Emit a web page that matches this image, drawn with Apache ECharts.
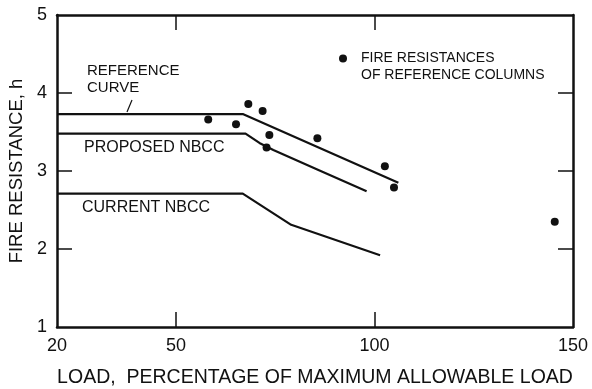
<!DOCTYPE html>
<html lang="en">
<head>
    <meta charset="UTF-8">
    <title>Fire resistance vs load</title>
    <script src="https://cdn.jsdelivr.net/npm/echarts@6/dist/echarts.min.js"></script>
    <style>
        body { margin: 0; background: #fff; }
    </style>
</head>
<body>
<div id="main" style="width: 592px;height:389px;"></div>

<script>
    // curves: [load %, fire resistance h]
    var referenceCurve = [[20, 3.73], [66.8, 3.73], [106, 2.85]];
    var proposedNbcc = [[20, 3.48], [67.5, 3.48], [71, 3.36], [74.5, 3.27], [86, 3.01], [98, 2.74]];
    var currentNbcc = [[20, 2.71], [66.8, 2.71], [79, 2.31], [101.4, 1.92]];
    // fire resistances of reference columns
    var columnPoints = [
        [58.1, 3.66], [65.1, 3.60], [68.2, 3.86], [71.8, 3.77], [73.5, 3.46],
        [72.8, 3.30], [85.6, 3.42], [102.6, 3.06], [104.9, 2.79], [145.4, 2.35]
    ];
    var xLabels = [20, 50, 100, 150];
    var xTicks = [50, 100];
    var yTicks = [2, 3, 4];

    var font = 'Liberation Sans';
    var black = '#111';

    var chart = echarts.init(document.getElementById('main'));

    function lineSeries(name, data) {
        return {
            name: name,
            type: 'line',
            data: data,
            showSymbol: false,
            symbol: 'none',
            silent: true,
            lineStyle: {color: black, width: 2.2}
        };
    }

    var option = {
        animation: false,
        backgroundColor: '#fff',
        textStyle: {fontFamily: font, color: black},
        grid: {left: 57, right: 19, top: 15, bottom: 62, outerBoundsMode: 'none'},
        legend: {
            data: ['points'],
            left: 339,
            top: 33,
            padding: 0,
            itemWidth: 8,
            itemHeight: 8,
            selectedMode: false,
            // blank first line keeps the dot level with the first text line
            formatter: function () {
                return '\n{t|FIRE RESISTANCES}\n{t|OF REFERENCE COLUMNS}';
            },
            textStyle: {
                fontFamily: font,
                fontSize: 14,
                lineHeight: 17,
                color: black,
                rich: {
                    t: {fontFamily: font, fontSize: 14, lineHeight: 17, color: black, padding: [0, 0, 0, 9]}
                }
            }
        },
        xAxis: [{
            type: 'value',
            min: 20,
            max: 150,
            name: 'LOAD,  PERCENTAGE OF MAXIMUM ALLOWABLE LOAD',
            nameLocation: 'middle',
            nameGap: 41,
            nameTextStyle: {fontSize: 19.5, color: black},
            axisLine: {lineStyle: {color: black, width: 2.5}},
            axisTick: {show: true, inside: true, length: 15, customValues: xTicks, lineStyle: {color: black, width: 1.5}},
            axisLabel: {customValues: xLabels, fontSize: 18, color: black, margin: 10},
            splitLine: {show: false}
        }, {
            type: 'value',
            position: 'top',
            min: 20,
            max: 150,
            axisLine: {lineStyle: {color: black, width: 2.5}},
            axisTick: {show: true, inside: true, length: 15, customValues: xTicks, lineStyle: {color: black, width: 1.5}},
            axisLabel: {show: false},
            splitLine: {show: false}
        }],
        yAxis: [{
            type: 'value',
            min: 1,
            max: 5,
            interval: 1,
            name: 'FIRE RESISTANCE, h',
            nameLocation: 'middle',
            nameGap: 31,
            nameTextStyle: {fontSize: 18.5, color: black},
            axisLine: {show: true, lineStyle: {color: black, width: 2.5}},
            axisTick: {show: true, inside: true, length: 15, customValues: yTicks, lineStyle: {color: black, width: 1.5}},
            axisLabel: {fontSize: 18, color: black, margin: 10},
            splitLine: {show: false}
        }, {
            type: 'value',
            position: 'right',
            min: 1,
            max: 5,
            interval: 1,
            axisLine: {show: true, lineStyle: {color: black, width: 2.5}},
            axisTick: {show: true, inside: true, length: 15, customValues: yTicks, lineStyle: {color: black, width: 1.5}},
            axisLabel: {show: false},
            splitLine: {show: false}
        }],
        series: [
            lineSeries('reference', referenceCurve),
            lineSeries('proposed', proposedNbcc),
            lineSeries('current', currentNbcc),
            {
                name: 'points',
                type: 'scatter',
                data: columnPoints,
                symbol: 'circle',
                symbolSize: 8,
                itemStyle: {color: black, opacity: 1}
            }
        ],
        graphic: [
            {type: 'text', left: 87, top: 63, style: {text: 'REFERENCE', font: '15px ' + font, fill: black}},
            {type: 'text', left: 87, top: 80, style: {text: 'CURVE', font: '15px ' + font, fill: black}},
            {type: 'line', shape: {x1: 127, y1: 112, x2: 132, y2: 100}, style: {stroke: black, lineWidth: 1.2}},
            {type: 'text', left: 84, top: 140, style: {text: 'PROPOSED NBCC', font: '16px ' + font, fill: black}},
            {type: 'text', left: 82, top: 200, style: {text: 'CURRENT NBCC', font: '16px ' + font, fill: black}}
        ]
    };
    chart.setOption(option);
</script>
</body>
</html>
